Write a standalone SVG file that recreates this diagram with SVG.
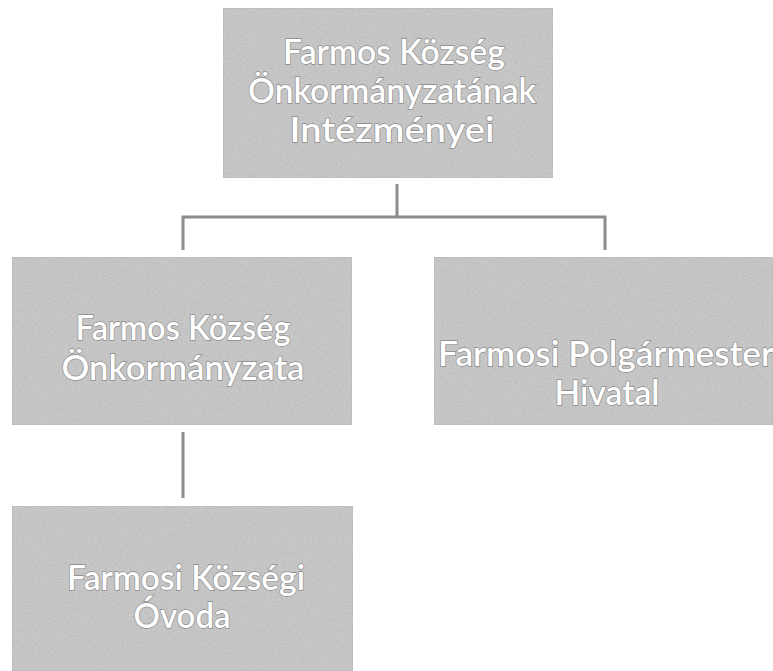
<svg xmlns="http://www.w3.org/2000/svg" width="773" height="671" viewBox="0 0 773 671">
  <defs>
    <filter id="grain" x="0" y="0" width="100%" height="100%">
      <feTurbulence type="fractalNoise" baseFrequency="0.8" numOctaves="2" seed="3" result="n"/>
      <feColorMatrix in="n" type="matrix" values="0 0 0 0 0.5  0 0 0 0 0.5  0 0 0 0 0.5  0 0 0 2.5 -0.95" result="dots"/>
      <feComposite in="dots" in2="SourceGraphic" operator="in" result="d2"/>
      <feMerge><feMergeNode in="SourceGraphic"/><feMergeNode in="d2"/></feMerge>
    </filter>
  </defs>
  <style>
    .box { fill: #c9c9c9; stroke: #b5b5b5; stroke-width: 1; filter: url(#grain); }
    .lbl { font-family: Lato, "Open Sans", "Liberation Sans", sans-serif; font-size: 34px; font-weight: 600; fill: #ffffff; stroke: #8a8a8a; stroke-width: 1.3; paint-order: stroke; text-anchor: middle; }
    .conn { fill: none; stroke: #8c8c8c; stroke-width: 3; }
  </style>
  <rect width="773" height="671" fill="#ffffff"/>
  <g id="connectors">
    <path class="conn" d="M397 184 V217"/>
    <path class="conn" d="M183 250 V217 H605 V250"/>
    <path class="conn" d="M183 432 V498"/>
  </g>
  <g id="node-top">
    <rect class="box" x="223" y="8" width="330" height="170"/>
    <text class="lbl" x="394" y="64" textLength="222" lengthAdjust="spacingAndGlyphs">Farmos Község</text>
    <text class="lbl" x="392" y="103" textLength="288" lengthAdjust="spacingAndGlyphs">Önkormányzatának</text>
    <text class="lbl" x="392" y="142" textLength="205" lengthAdjust="spacingAndGlyphs">Intézményei</text>
  </g>
  <g id="node-left">
    <rect class="box" x="12" y="257" width="340" height="168"/>
    <text class="lbl" x="183" y="340" textLength="215" lengthAdjust="spacingAndGlyphs">Farmos Község</text>
    <text class="lbl" x="183" y="380" textLength="243" lengthAdjust="spacingAndGlyphs">Önkormányzata</text>
  </g>
  <g id="node-right">
    <rect class="box" x="434" y="257" width="339" height="168"/>
    <text class="lbl" x="606" y="366" textLength="336" lengthAdjust="spacingAndGlyphs">Farmosi Polgármester</text>
    <text class="lbl" x="607" y="405" textLength="105" lengthAdjust="spacingAndGlyphs">Hivatal</text>
  </g>
  <g id="node-bottom">
    <rect class="box" x="12" y="506" width="341" height="165"/>
    <text class="lbl" x="186" y="590" textLength="238" lengthAdjust="spacingAndGlyphs">Farmosi Községi</text>
    <text class="lbl" x="182" y="628" textLength="97" lengthAdjust="spacingAndGlyphs">Óvoda</text>
  </g>
</svg>
